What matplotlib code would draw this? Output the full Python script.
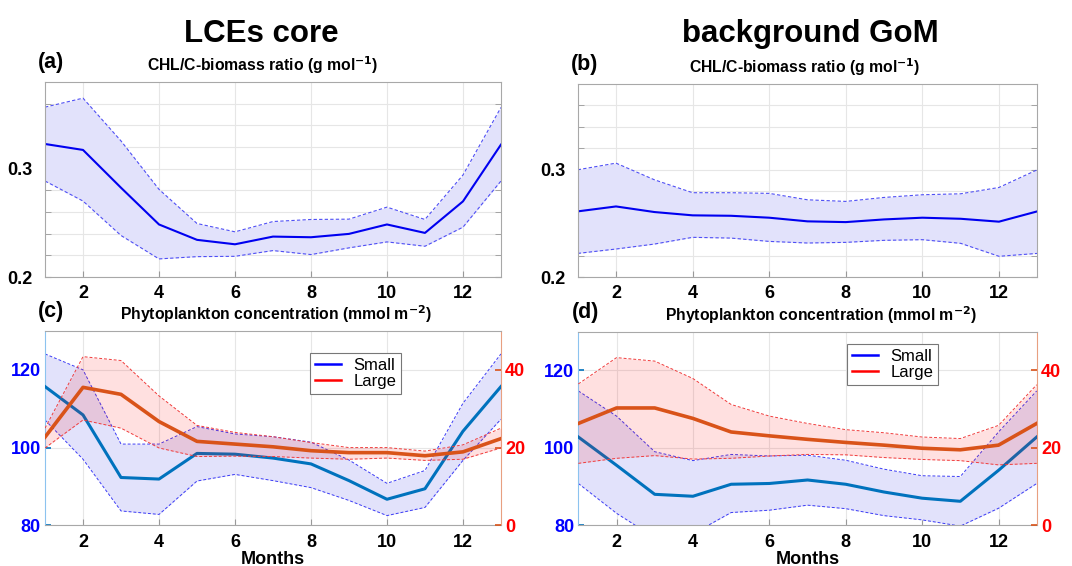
import numpy as np
import matplotlib
matplotlib.use("Agg")
import matplotlib.pyplot as plt
from matplotlib.lines import Line2D

plt.rcParams['font.family'] = ['Liberation Sans', 'DejaVu Sans']
plt.rcParams['font.weight'] = 'bold'

months = np.arange(1, 14)

# (a) CHL/C ratio, LCEs core
ratio_core_mean = [0.3228, 0.3173, 0.2824, 0.2485, 0.2343, 0.2302, 0.2373, 0.2367, 0.2398, 0.2485, 0.2407, 0.2698, 0.3222]
ratio_core_hi = [0.3568, 0.3651, 0.3256, 0.2809, 0.2494, 0.2417, 0.2512, 0.2531, 0.2534, 0.2645, 0.2531, 0.2941, 0.3565]
ratio_core_lo = [0.2886, 0.2701, 0.2383, 0.2167, 0.2188, 0.2191, 0.2244, 0.2207, 0.2269, 0.2324, 0.2284, 0.2460, 0.2886]

# (b) CHL/C ratio, background GoM
ratio_bg_mean = [0.2612, 0.2658, 0.2606, 0.2575, 0.2571, 0.2553, 0.2519, 0.2512, 0.2537, 0.2553, 0.2543, 0.2516, 0.2612]
ratio_bg_hi = [0.3000, 0.3062, 0.2907, 0.2786, 0.2786, 0.2780, 0.2720, 0.2705, 0.2742, 0.2767, 0.2776, 0.2835, 0.3000]
ratio_bg_lo = [0.2220, 0.2261, 0.2307, 0.2370, 0.2363, 0.2332, 0.2317, 0.2323, 0.2342, 0.2348, 0.2314, 0.2193, 0.2220]

# (c) phytoplankton, LCEs core
small_core_mean = [115.7, 108.4, 92.3, 91.9, 98.5, 98.3, 97.3, 95.8, 91.5, 86.7, 89.4, 104.2, 115.7]
small_core_hi = [124.1, 120.0, 100.9, 100.9, 105.4, 103.5, 102.8, 101.4, 96.8, 90.8, 94.1, 111.4, 124.1]
small_core_lo = [107.1, 97.0, 83.7, 82.8, 91.4, 93.1, 91.5, 89.7, 86.4, 82.5, 84.6, 96.7, 107.3]
large_core_mean = [22.7, 35.5, 33.7, 26.7, 21.6, 20.9, 20.2, 19.2, 18.7, 18.7, 17.9, 18.9, 22.3]
large_core_hi = [25.0, 43.4, 42.4, 33.3, 25.7, 23.9, 22.8, 21.3, 20.0, 20.0, 19.1, 20.7, 25.0]
large_core_lo = [19.9, 27.1, 25.0, 19.9, 17.7, 17.8, 17.7, 17.3, 17.0, 17.3, 16.7, 17.0, 19.9]

# (d) phytoplankton, background GoM
small_bg_mean = [102.8, 95.5, 88.0, 87.5, 90.6, 90.8, 91.7, 90.6, 88.6, 87.0, 86.2, 94.2, 102.8]
small_bg_hi = [114.7, 108.2, 99.0, 96.7, 98.3, 97.9, 98.1, 96.8, 94.5, 92.8, 92.6, 104.1, 114.7]
small_bg_lo = [90.8, 83.1, 76.8, 77.8, 83.3, 83.9, 85.2, 84.3, 82.5, 81.4, 79.8, 84.4, 90.8]
large_bg_mean = [26.3, 30.3, 30.3, 27.6, 24.1, 23.1, 22.2, 21.4, 20.7, 19.9, 19.5, 20.7, 26.3]
large_bg_hi = [36.5, 43.3, 42.4, 37.9, 31.2, 28.2, 26.3, 24.7, 23.9, 22.8, 22.4, 25.8, 36.3]
large_bg_lo = [16.0, 17.3, 18.0, 17.1, 17.3, 17.9, 18.3, 18.2, 17.5, 17.0, 16.7, 15.6, 16.0]

BLUE_FILL = '#e2e2fb'
GRID = '#e6e6e6'
SPINE = '#a8a8a8'

fig = plt.figure(figsize=(10.72, 5.66), dpi=100)


def base_axes(rect, ypad):
    ax = fig.add_axes(rect)
    ax.set_xlim(1, 13)
    ax.set_xticks(range(2, 13, 2))
    ax.grid(True, color=GRID, lw=0.8)
    ax.set_axisbelow(True)
    for s in ax.spines.values():
        s.set_color(SPINE)
        s.set_linewidth(0.8)
    ax.tick_params(direction='in', length=4, width=0.8, color='#999999',
                   labelsize=13, top=False, right=True)
    ax.tick_params(axis='x', pad=6)
    ax.tick_params(axis='y', pad=ypad)
    return ax


def bold_labels(ax):
    for lab in ax.get_xticklabels() + ax.get_yticklabels():
        lab.set_fontweight('bold')


def ratio_panel(rect, mean, hi, lo, letter, sub_x):
    ax = base_axes(rect, 9)
    ax.fill_between(months, lo, hi, color=BLUE_FILL, lw=0)
    ax.plot(months, hi, color='#4f4ff5', lw=0.8, dashes=(3, 2))
    ax.plot(months, lo, color='#4f4ff5', lw=0.8, dashes=(3, 2))
    ax.plot(months, mean, color='#0000f0', lw=1.5)
    ax.set_ylim(0.2, 0.38)
    ax.set_yticks([0.2, 0.3])
    ax.set_yticks(np.arange(0.22, 0.38, 0.02), minor=True)
    ax.yaxis.set_major_formatter(plt.FormatStrFormatter('%g'))
    ax.grid(True, which='minor', axis='y', color=GRID, lw=0.8)
    ax.tick_params(which='minor', direction='in', length=4, color='#999999', right=True)
    bold_labels(ax)
    ax.set_title('CHL/C-biomass ratio (g mol$^{\\mathbf{-1}}$)', fontsize=11.3,
                 fontweight='bold', pad=8, x=sub_x)
    ax.text(-0.015, 1.045, letter, transform=ax.transAxes, fontsize=15.5,
            fontweight='bold', ha='left', va='bottom')
    return ax


def phyto_panel(rect, s_mean, s_hi, s_lo, l_mean, l_hi, l_lo, letter, leg_loc, sub_x):
    ax = base_axes(rect, 3)
    ax.set_ylim(80, 130)
    ax.set_yticks([80, 100, 120])
    ax.tick_params(axis='y', colors='#0000ff', right=False)
    ax.tick_params(axis='y', which='major', color='#0072bd', width=1.2, length=4)
    bold_labels(ax)
    ax.spines['left'].set_color('#8cc3ef')
    ax.spines['right'].set_color('#e8a080')
    ax2 = ax.twinx()
    ax2.set_ylim(0, 50)
    ax2.set_yticks([0, 20, 40])
    ax2.tick_params(axis='y', direction='in', colors='#ff0000', labelsize=13,
                    length=4, width=1.2, pad=3)
    ax2.tick_params(axis='y', color='#d95319')
    bold_labels(ax2)
    for s in ax2.spines.values():
        s.set_visible(False)

    ax.fill_between(months, s_lo, s_hi, color=BLUE_FILL, lw=0, zorder=1)
    ax.plot(months, s_hi, color='#3b3bf5', lw=0.7, dashes=(3, 2), zorder=2)
    ax.plot(months, s_lo, color='#3b3bf5', lw=0.7, dashes=(3, 2), zorder=2)
    ax.plot(months, s_mean, color='#0072bd', lw=2.2, zorder=5)

    ax2.fill_between(months, l_lo, l_hi, color='#ff0000', alpha=0.12, lw=0, zorder=1)
    ax2.plot(months, l_hi, color='#f03c3c', lw=0.7, dashes=(3, 2), zorder=2)
    ax2.plot(months, l_lo, color='#f03c3c', lw=0.7, dashes=(3, 2), zorder=2)
    ax2.plot(months, l_mean, color='#d95319', lw=2.6, zorder=5)

    handles = [Line2D([], [], color='#0000ff', lw=1.8),
               Line2D([], [], color='#ff0000', lw=1.8)]
    leg = ax2.legend(handles, ['Small', 'Large'], loc='upper left',
                     bbox_to_anchor=leg_loc, borderaxespad=0, fancybox=False,
                     framealpha=1, edgecolor='#777777', handlelength=1.55,
                     handletextpad=0.75, borderpad=0.3, labelspacing=0.05,
                     prop={'size': 12, 'weight': 'normal'})
    leg.get_frame().set_linewidth(0.8)

    ax.set_xlabel('Months', fontsize=13, fontweight='bold', labelpad=0)
    ax.set_title('Phytoplankton concentration (mmol m$^{\\mathbf{-2}}$)',
                 fontsize=11.3, fontweight='bold', pad=8, x=sub_x)
    ax.text(-0.015, 1.045, letter, transform=ax.transAxes, fontsize=15.5,
            fontweight='bold', ha='left', va='bottom')
    return ax


ax_a = ratio_panel([0.042, 0.5106, 0.4253, 0.3445], ratio_core_mean, ratio_core_hi,
                   ratio_core_lo, '(a)', 0.477)
ax_b = ratio_panel([0.5389, 0.5106, 0.4287, 0.3410], ratio_bg_mean, ratio_bg_hi,
                   ratio_bg_lo, '(b)', 0.495)
ax_c = phyto_panel([0.042, 0.0719, 0.4253, 0.3433], small_core_mean, small_core_hi,
                   small_core_lo, large_core_mean, large_core_hi, large_core_lo,
                   '(c)', (0.581, 0.888), 0.507)
ax_d = phyto_panel([0.5395, 0.0719, 0.4276, 0.3421], small_bg_mean, small_bg_hi,
                   small_bg_lo, large_bg_mean, large_bg_hi, large_bg_lo,
                   '(d)', (0.586, 0.936), 0.53)

fig.text(0.244, 0.94, 'LCEs core', fontsize=22.5, fontweight='bold',
         ha='center', va='center')
fig.text(0.7555, 0.94, 'background GoM', fontsize=22.5, fontweight='bold',
         ha='center', va='center')

fig.savefig('out.png', dpi=100, facecolor='white')
